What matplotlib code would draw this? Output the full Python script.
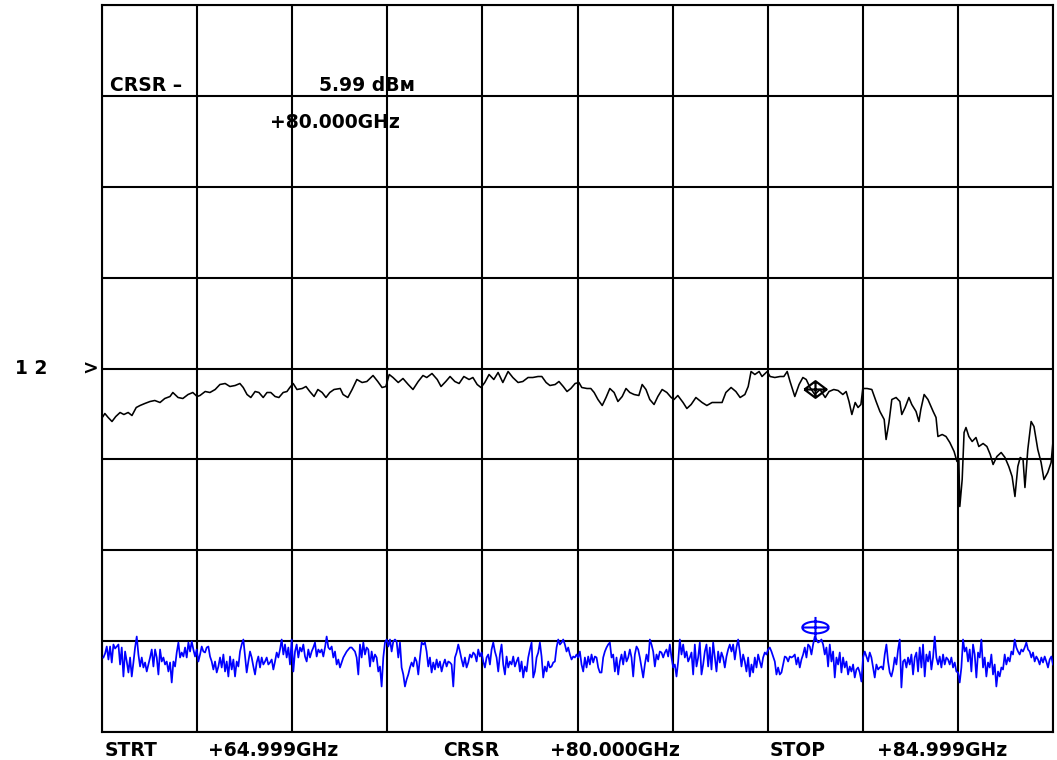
import numpy as np
import matplotlib
matplotlib.use("Agg")
import matplotlib.pyplot as plt
from matplotlib.path import Path

# ---- sweep / display settings ----
START_GHZ = 65.0
STOP_GHZ = 85.0
CURSOR_GHZ = 80.0
COUNTS_PER_DIV = 90.875          # trace level counts per graticule division

# ---- channel 1 (black) : frequency [GHz] and level [counts, 0 = reference line] ----
ch1_freq = [
    65.02, 65.06, 65.13, 65.21, 65.29, 65.38, 65.46, 65.55, 65.63, 65.72, 65.80, 65.90,
    66.01, 66.11, 66.22, 66.32, 66.43, 66.49, 66.60, 66.70, 66.81, 66.91, 67.00, 67.06,
    67.17, 67.27, 67.38, 67.48, 67.59, 67.69, 67.80, 67.90, 67.97, 68.05, 68.13, 68.22,
    68.30, 68.39, 68.47, 68.55, 68.64, 68.72, 68.81, 68.89, 68.95, 69.02, 69.10, 69.21,
    69.29, 69.37, 69.46, 69.54, 69.63, 69.71, 69.79, 69.88, 70.01, 70.07, 70.17, 70.26,
    70.36, 70.47, 70.57, 70.70, 70.80, 70.89, 70.97, 71.04, 71.12, 71.23, 71.33, 71.44,
    71.54, 71.65, 71.75, 71.83, 71.94, 72.05, 72.13, 72.23, 72.32, 72.42, 72.51, 72.61,
    72.72, 72.80, 72.89, 72.97, 73.05, 73.14, 73.24, 73.33, 73.43, 73.54, 73.64, 73.75,
    73.85, 73.96, 74.06, 74.17, 74.25, 74.34, 74.42, 74.53, 74.61, 74.70, 74.78, 74.86,
    74.95, 75.03, 75.09, 75.20, 75.28, 75.35, 75.43, 75.52, 75.60, 75.68, 75.77, 75.85,
    75.94, 76.02, 76.10, 76.19, 76.29, 76.36, 76.44, 76.52, 76.61, 76.69, 76.78, 76.88,
    76.97, 77.03, 77.11, 77.22, 77.30, 77.39, 77.49, 77.62, 77.72, 77.83, 77.93, 78.04,
    78.12, 78.23, 78.33, 78.42, 78.52, 78.59, 78.65, 78.73, 78.82, 78.88, 78.99, 79.05,
    79.15, 79.26, 79.34, 79.41, 79.47, 79.57, 79.66, 79.74, 79.81, 79.89, 79.99, 80.10,
    80.21, 80.29, 80.39, 80.48, 80.58, 80.65, 80.71, 80.77, 80.84, 80.90, 80.96, 81.00,
    81.09, 81.19, 81.28, 81.36, 81.45, 81.49, 81.55, 81.61, 81.70, 81.78, 81.82, 81.89,
    81.97, 82.03, 82.12, 82.18, 82.22, 82.29, 82.37, 82.48, 82.54, 82.58, 82.67, 82.75,
    82.83, 82.92, 82.98, 83.02, 83.04, 83.09, 83.13, 83.17, 83.23, 83.30, 83.38, 83.44,
    83.53, 83.61, 83.68, 83.74, 83.82, 83.91, 83.99, 84.07, 84.14, 84.20, 84.26, 84.31,
    84.37, 84.41, 84.47, 84.54, 84.60, 84.68, 84.75, 84.81, 84.89, 84.96, 85.00,
]
ch1_level = [
    -48, -45, -49, -53, -48, -44, -46, -44, -47, -39, -37, -35,
    -33, -32, -34, -30, -28, -24, -29, -30, -26, -24, -28, -27,
    -23, -24, -21, -16, -15, -18, -17, -15, -19, -26, -29, -23,
    -24, -29, -24, -24, -28, -29, -24, -23, -19, -15, -21, -20,
    -18, -23, -28, -21, -24, -29, -24, -21, -20, -26, -29, -21,
    -11, -14, -13, -7, -13, -19, -18, -6, -9, -14, -10, -16,
    -21, -13, -7, -9, -5, -11, -18, -13, -8, -13, -15, -8,
    -11, -9, -16, -19, -14, -6, -11, -4, -14, -3, -9, -14,
    -13, -9, -9, -8, -8, -14, -17, -16, -13, -18, -23, -20,
    -15, -14, -19, -20, -20, -24, -31, -37, -29, -20, -24, -33,
    -28, -20, -24, -26, -27, -16, -21, -31, -36, -28, -21, -24,
    -29, -31, -27, -34, -40, -36, -29, -34, -37, -34, -34, -34,
    -24, -19, -23, -29, -26, -18, -3, -6, -3, -8, -3, -8,
    -9, -8, -8, -3, -13, -28, -16, -9, -11, -19, -26, -21,
    -29, -23, -21, -22, -26, -23, -33, -46, -34, -39, -36, -20,
    -20, -21, -33, -43, -51, -71, -54, -31, -29, -33, -46, -39,
    -29, -36, -43, -53, -41, -26, -31, -43, -49, -68, -66, -68,
    -74, -83, -93, -91, -138, -111, -64, -59, -68, -73, -69, -78,
    -75, -78, -86, -96, -88, -84, -89, -98, -108, -128, -98, -89,
    -91, -119, -81, -53, -58, -81, -94, -111, -104, -94, -73,
]

# ---- channel 2 (blue) : level [counts] on a uniform sweep ----
ch2_level_a = [
    -289, -285, -278, -291, -278, -294, -276, -280, -278, -276, -296, -279, -308, -283, -293, -304,
    -289, -308, -294, -279, -268, -286, -298, -289, -299, -294, -303, -296, -289, -281, -298, -281,
    -289, -306, -281, -293, -289, -296, -293, -303, -294, -314, -293, -298, -284, -274, -289, -284,
    -288, -279, -289, -274, -283, -273, -281, -288, -281, -293, -286, -278, -283, -284, -279, -278,
    -288, -293, -301, -293, -304, -298, -289, -299, -286, -303, -293, -308, -288, -301, -291, -308,
    -293, -298, -283, -276, -271, -288, -304, -293, -283, -289, -298, -306, -294, -288, -299, -289,
    -296, -293, -289, -296, -294, -291, -301, -293, -284, -289, -281, -271, -286, -276, -289, -279,
    -296, -271, -303, -283, -276, -289, -279, -283, -276, -288, -293, -281, -289, -283, -279, -274,
    -288, -281, -284, -281, -288, -279, -268, -279, -281, -278, -289, -283, -296, -291,
]
ch2_level_b = [
    -299, -294, -289, -286, -283, -281, -279, -279, -281, -283, -289, -306, -276, -289, -274, -286,
    -279, -281, -298, -283, -293, -286, -289, -303, -298, -318, -289, -274, -271, -278, -271, -283,
    -273, -271, -273, -289, -274, -299, -306, -318, -311, -306, -299, -294, -298, -289, -293, -306,
    -289, -274, -276, -274, -283, -298, -289, -304, -294, -301, -291, -299, -293, -303, -296, -291,
    -298, -293, -294, -296, -318, -289, -284, -276, -283, -291, -298, -289, -299, -294, -286, -289,
    -284, -286, -293, -281, -288, -284, -293, -299, -289, -286, -296, -281, -274, -283, -289, -303,
    -286, -276, -296, -306, -288, -299, -293, -296, -288, -298, -293, -289, -303, -293, -309, -298,
    -303, -289, -281, -274, -309, -303, -289, -284, -274, -288, -309, -298, -303, -293, -299, -298,
    -294, -293, -279, -271, -276, -274, -271, -276, -283, -279, -286, -291, -288, -289, -286, -289,
]
ch2_level_c = [
    -283, -296, -303, -289, -299, -288, -296, -286, -294, -288, -289, -299, -304, -304, -289, -283,
    -279, -276, -274, -289, -286, -303, -289, -306, -293, -286, -296, -283, -293, -289, -281, -289,
    -308, -286, -278, -281, -289, -299, -309, -296, -286, -293, -271, -276, -283, -298, -286, -291,
    -283, -284, -289, -284, -281, -288, -276, -289, -299, -296, -308, -293, -271, -286, -276, -289,
    -283, -293, -289, -284, -306, -276, -298, -289, -274, -306, -296, -283, -276, -298, -279, -301,
    -274, -289, -303, -283, -294, -284, -289, -299, -288, -281, -276, -283, -276, -291, -279, -271,
    -283, -298, -286, -293, -303, -289, -308, -296, -304, -289, -299, -286, -293, -299, -289, -284,
    -286, -281, -279, -283, -288, -293, -306, -299, -306, -304, -296, -288, -289, -293, -288, -289,
    -288, -286, -296, -289, -299, -291, -286, -279, -289, -276, -278, -286, -276, -268, -271, -274,
]
ch2_level_d = [
    -273, -271, -276, -286, -279, -298, -276, -293, -283, -309, -289, -296, -284, -304, -289, -299,
    -293, -306, -298, -303, -296, -309, -301, -299, -304, -313, -289, -283, -288, -293, -284, -289,
    -299, -309, -296, -301, -299, -298, -301, -286, -276, -293, -304, -308, -301, -289, -296, -281,
    -271, -319, -293, -291, -299, -289, -296, -286, -306, -289, -284, -303, -279, -299, -276, -308,
    -286, -293, -283, -301, -289, -268, -289, -296, -288, -299, -286, -296, -289, -291, -296, -289,
    -299, -294, -303, -304, -314, -299, -271, -283, -279, -293, -281, -303, -276, -286, -309, -284,
    -289, -271, -299, -289, -308, -294, -299, -286, -306, -296, -318, -303, -308, -299, -301, -286,
    -296, -289, -293, -283, -286, -271, -279, -283, -286, -281, -283, -279, -274, -281, -283, -289,
    -284, -293, -288, -291, -296, -289, -294, -288, -293, -299, -291, -288, -296,
]
ch2_level = ch2_level_a + ch2_level_b + ch2_level_c + ch2_level_d
ch2_freq = np.linspace(65.03, STOP_GHZ, len(ch2_level))

# cursor readings at CURSOR_GHZ
cursor_ch1_level = -20
cursor_ch2_level = -258

# ---- figure ----
W, H = 1057, 760
fig = plt.figure(figsize=(W / 100, H / 100), dpi=100)
fig.patch.set_facecolor("white")
ax = fig.add_axes([102 / W, 28 / H, 951 / W, 727 / H])
ax.set_xlim(START_GHZ, STOP_GHZ)
ax.set_ylim(-4 * COUNTS_PER_DIV, 4 * COUNTS_PER_DIV)
ax.set_xticks(np.arange(START_GHZ, STOP_GHZ + 0.1, 2.0))
ax.set_yticks(np.arange(-4, 5) * COUNTS_PER_DIV)
ax.grid(True, color="black", linewidth=1.5)
ax.tick_params(length=0, labelbottom=False, labelleft=False)
for s in ax.spines.values():
    s.set_linewidth(1.5)
    s.set_color("black")
ax.set_axisbelow(True)

ax.plot(ch1_freq, ch1_level, color="black", linewidth=1.15, zorder=3)
ax.plot(ch2_freq, ch2_level, color="#0000ff", linewidth=1.25, zorder=3)

# cursor marker shapes (ellipse / diamond with crosshair)
t = np.linspace(0, 2 * np.pi, 41)
ell = np.column_stack([np.cos(t), 0.45 * np.sin(t)])
verts = [tuple(v) for v in ell] + [(-1, 0), (1, 0), (0, -1.0), (0, 0.8)]
codes = [Path.MOVETO] + [Path.LINETO] * 40 + [Path.MOVETO, Path.LINETO, Path.MOVETO, Path.LINETO]
ell_marker = Path(verts, codes)

dverts = [(-1, 0), (0, 0.75), (1, 0), (0, -0.75), (-1, 0), (-1, 0), (1, 0), (0, -0.75), (0, 0.75)]
dcodes = [Path.MOVETO, Path.LINETO, Path.LINETO, Path.LINETO, Path.LINETO,
          Path.MOVETO, Path.LINETO, Path.MOVETO, Path.LINETO]
dia_marker = Path(dverts, dcodes)

ax.plot([CURSOR_GHZ], [cursor_ch1_level], marker=dia_marker, markersize=16,
        markerfacecolor="none", markeredgecolor="black", markeredgewidth=1.6, zorder=4)
ax.plot([CURSOR_GHZ], [cursor_ch2_level], marker=ell_marker, markersize=19,
        markerfacecolor="none", markeredgecolor="#0000ff", markeredgewidth=1.5, zorder=4)

# ---- annotations ----
FS = 13.5
tk = dict(fontsize=FS, fontweight="bold", family="DejaVu Sans", color="black")


def ftext(x, y, s, ha="left", va="baseline"):
    fig.text(x / W, 1 - y / H, s, ha=ha, va=va, **tk)


ftext(110, 91, "CRSR \u2013")
ftext(367, 91, "5.99 dB\u043c", ha="center")
ftext(335, 128, "+80.000GHz", ha="center")
ftext(15, 369, "1 2", va="center")
ftext(91, 369, ">", ha="center", va="center")

ftext(105, 756, "STRT")
ftext(273, 756, "+64.999GHz", ha="center")
ftext(471, 756, "CRSR", ha="center")
ftext(615, 756, "+80.000GHz", ha="center")
ftext(798, 756, "STOP", ha="center")
ftext(942, 756, "+84.999GHz", ha="center")

fig.savefig("out.png", dpi=100, facecolor="white")
